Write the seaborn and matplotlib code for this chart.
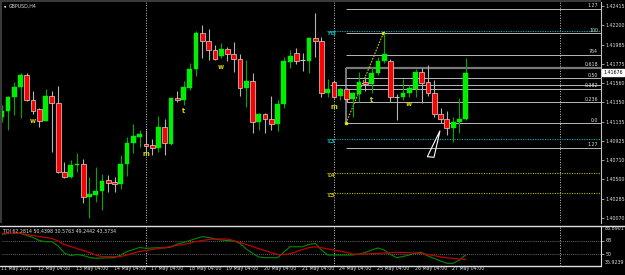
import numpy as np
import pandas as pd
import matplotlib
matplotlib.use("Agg")
import matplotlib.pyplot as plt
import matplotlib.transforms as mtransforms
from matplotlib.patches import Rectangle, Polygon
from matplotlib.lines import Line2D
import seaborn as sns

# ---------------- data (GBPUSD H4) ----------------
opens = [1.41182, 1.41252, 1.41403, 1.41520, 1.41650, 1.41373, 1.41274, 1.41145, 1.41418, 1.41337,
         1.40575, 1.40526, 1.40655, 1.40666, 1.40305, 1.40324, 1.40368, 1.40490, 1.40468, 1.40442,
         1.40666, 1.40895, 1.40968, 1.40887, 1.40873, 1.40840, 1.41072, 1.40887, 1.41395, 1.41373,
         1.41503, 1.41712, 1.42110, 1.42028, 1.41926, 1.41863, 1.41933, 1.41878, 1.41823, 1.41509,
         1.41583, 1.41134, 1.41215, 1.41164, 1.41108, 1.41326, 1.41796, 1.41889, 1.41811, 1.41808,
         1.42055, 1.42022, 1.41454, 1.41572, 1.41418, 1.41492, 1.41381, 1.41440, 1.41576, 1.41550,
         1.41668, 1.41808, 1.41808, 1.41403, 1.41403, 1.41447, 1.41495, 1.41686, 1.41569, 1.41447,
         1.41219, 1.41160, 1.41061, 1.41134, 1.41160]
highs = [1.41318, 1.41415, 1.41576, 1.41668, 1.41668, 1.41476, 1.41282, 1.41495, 1.41473, 1.41528,
         1.40685, 1.40711, 1.40785, 1.40718, 1.40526, 1.40637, 1.40556, 1.40545, 1.40526, 1.40766,
         1.40968, 1.41108, 1.41042, 1.41042, 1.40939, 1.41197, 1.41167, 1.41395, 1.41473, 1.41587,
         1.41785, 1.42139, 1.42202, 1.42154, 1.41981, 1.42006, 1.41962, 1.42011, 1.41878, 1.41815,
         1.41668, 1.41227, 1.41225, 1.41418, 1.41373, 1.41845, 1.41926, 1.41951, 1.41889, 1.42073,
         1.42338, 1.42066, 1.41605, 1.41594, 1.41503, 1.41503, 1.41465, 1.41686, 1.41624, 1.41741,
         1.41852, 1.42110, 1.41823, 1.41440, 1.41602, 1.41539, 1.41712, 1.41724, 1.41760, 1.41594,
         1.41282, 1.41255, 1.41189, 1.41392, 1.41834]
lows = [1.41134, 1.41042, 1.41208, 1.41171, 1.41366, 1.41219, 1.41072, 1.41140, 1.40802, 1.40564,
        1.40509, 1.40509, 1.40581, 1.40232, 1.40067, 1.40250, 1.40158, 1.40360, 1.40360, 1.40390,
        1.40537, 1.40785, 1.40858, 1.40802, 1.40766, 1.40802, 1.40766, 1.40876, 1.41351, 1.41318,
        1.41484, 1.41639, 1.41834, 1.41815, 1.41815, 1.41834, 1.41808, 1.41686, 1.41418, 1.41299,
        1.41006, 1.41042, 1.41012, 1.41042, 1.41034, 1.41282, 1.41724, 1.41768, 1.41694, 1.41675,
        1.41852, 1.41410, 1.41410, 1.41392, 1.41373, 1.41355, 1.41189, 1.41355, 1.41476, 1.41447,
        1.41650, 1.41779, 1.41355, 1.41152, 1.41373, 1.41403, 1.41410, 1.41337, 1.41418, 1.41182,
        1.41116, 1.40987, 1.40913, 1.41006, 1.41152]
closes = [1.41255, 1.41410, 1.41520, 1.41653, 1.41373, 1.41255, 1.41145, 1.41418, 1.41337, 1.40575,
          1.40526, 1.40655, 1.40666, 1.40305, 1.40332, 1.40368, 1.40479, 1.40460, 1.40442, 1.40666,
          1.40895, 1.40976, 1.40995, 1.40865, 1.40840, 1.41072, 1.40895, 1.41392, 1.41373, 1.41514,
          1.41712, 1.42113, 1.42028, 1.41926, 1.41826, 1.41933, 1.41878, 1.41823, 1.41509, 1.41583,
          1.41134, 1.41219, 1.41167, 1.41112, 1.41329, 1.41804, 1.41859, 1.41808, 1.41811, 1.42055,
          1.42022, 1.41454, 1.41492, 1.41410, 1.41492, 1.41381, 1.41447, 1.41576, 1.41550, 1.41675,
          1.41804, 1.41882, 1.41410, 1.41403, 1.41454, 1.41503, 1.41686, 1.41565, 1.41447, 1.41219,
          1.41160, 1.41061, 1.41134, 1.41164, 1.41676]

# TDI sub-window
tdi_price_line = [76.08, 77.12, 77.38, 77.38, 74.52, 71.91, 68.00, 66.43, 66.43, 60.82,
                  51.70, 48.44, 49.74, 48.44, 45.83, 44.78, 45.18, 45.44, 45.57, 49.09,
                  53.65, 56.26, 58.87, 57.82, 58.22, 58.61, 58.22, 59.52, 63.43, 65.39,
                  68.00, 70.60, 72.95, 71.91, 69.95, 68.65, 68.00, 67.34, 64.08, 56.91,
                  51.30, 46.48, 45.57, 45.57, 45.57, 53.00, 59.91, 59.91, 59.91, 62.78,
                  64.34, 55.61, 49.09, 49.09, 49.09, 49.09, 49.09, 50.39, 52.35, 55.61,
                  58.22, 55.61, 49.74, 45.57, 47.13, 49.09, 51.70, 52.35, 47.78, 44.52,
                  41.26, 38.26, 38.26, 42.57, 49.24]
tdi_signal_line = [77.38, 77.38, 77.38, 77.38, 75.82, 74.52, 73.21, 71.91, 70.60, 67.34,
                   62.78, 60.17, 57.56, 54.96, 52.35, 49.09, 46.87, 46.87, 46.87, 47.13,
                   49.09, 51.70, 53.65, 54.96, 56.26, 57.56, 58.87, 60.17, 61.74, 62.78,
                   64.74, 66.69, 68.00, 69.30, 69.95, 69.95, 69.95, 68.00, 65.39, 62.78,
                   60.17, 57.30, 54.69, 52.35, 49.74, 49.74, 50.78, 53.65, 56.26, 58.87,
                   59.78, 58.61, 56.91, 55.61, 54.04, 52.35, 50.39, 50.00, 50.39, 50.78,
                   51.30, 51.70, 52.09, 52.61, 52.35, 51.96, 51.43, 51.04, 49.74, 48.17,
                   46.50, 45.40, 44.50, 43.90, 43.37]
tdi_levels = [68, 50]
tdi_max, tdi_min = 86.8901, 35.9239
tdi_title = "TDI 62.2814 50.4398 30.5763 49.2442 43.3734"

price_ticks = [1.42415, 1.42200, 1.41985, 1.41775, 1.41560, 1.41350, 1.41135,
               1.40925, 1.40710, 1.40500, 1.40285, 1.40070]
current_price = 1.41676

date_labels = ["11 May 2021", "12 May 04:00", "13 May 04:00", "14 May 04:00", "17 May 04:00",
               "18 May 04:00", "19 May 04:00", "20 May 04:00", "21 May 04:00", "24 May 04:00",
               "25 May 04:00", "26 May 04:00", "27 May 04:00"]
date_label_bars = [0, 6, 12, 18, 24, 30, 36, 42, 48, 54, 60, 66, 72]
separator_bars = [23, 53, 89]

# Fibonacci
fib_anchor_bars = [54.9, 60.86]
fib_anchor_prices = [1.41116, 1.42110]
fib_levels = [1.27, 1.0, 0.764, 0.618, 0.5, 0.382, 0.236, 0.0, -0.27]
fib_labels = ["1.27", "100", "764", "0.618", "0.50", "0.382", "0.236", "0.0", "1.27"]
extra_line_bar = 52.4
extra_line_price = 1.41539

# pivot-like levels
pivot_labels = ["H3", "L3", "L4", "L5"]
pivot_prices = [1.42132, 1.40939, 1.40570, 1.40343]
pivot_colors = ["#00B8B8", "#00B8B8", "#B8B800", "#B8B800"]
pivot_start_bar = 51.9

# day-of-week letters
day_letters = ["w", "m", "t", "w", "m", "t", "w"]
day_letter_bars = [5, 23, 29, 35, 53, 59, 65]
day_letter_prices = [1.41145, 1.40774, 1.41252, 1.41741, 1.41296, 1.41373, 1.41326]

# arrow object
arrow_bars = [67.88, 68.95, 69.9]
arrow_prices = [1.40747, 1.40741, 1.41034]

# ---------------- style ----------------
sns.set_style("dark", {"axes.facecolor": "black", "figure.facecolor": "black"})
plt.rcParams["font.family"] = ["DejaVu Sans"]
TXT = "#DCDCDC"
FS = 3.4

W, H = 625, 275
def rect(l, t, r, b):
    return [l / W, 1 - b / H, (r - l) / W, (b - t) / H]

fig = plt.figure(figsize=(6.25, 2.75), dpi=100, facecolor="black")
ax = fig.add_axes(rect(2, 2, 601, 223))
ax2 = fig.add_axes(rect(2, 225.5, 601, 265.5), sharex=ax)
for a in (ax, ax2):
    a.set_facecolor("black")
    a.grid(False)
    for s in a.spines.values():
        s.set_visible(False)

x0, x1 = 0.048, 95.58
ax.set_xlim(x0, x1)
ax.set_ylim(1.40015, 1.42456)

o = np.array(opens); h = np.array(highs); l = np.array(lows); c = np.array(closes)
x = np.arange(len(o))
bull = c > o
bear = c < o
doji = c == o
bw = 0.76
minh = 0.00011

# separators
for sb in separator_bars:
    for a in (ax, ax2):
        a.axvline(sb, color="#C8C8C8", lw=0.7, ls=(0, (1, 1.6)), zorder=1)

# fib lines
p0, p1 = fib_anchor_prices
for lv, lab in zip(fib_levels, fib_labels):
    pr = p0 + lv * (p1 - p0)
    if lv == 0.618:
        ax.hlines(pr, fib_anchor_bars[0], x1, color="#7A7A7A", lw=1.6, zorder=1)
    else:
        ax.hlines(pr, fib_anchor_bars[0], x1, color="#B8B8B8", lw=0.7, zorder=1)
    ax.annotate(lab, xy=(0.995, pr), xycoords=(ax.transAxes, ax.transData),
                xytext=(0, 0.4), textcoords="offset points", ha="right", va="bottom",
                color=TXT, fontsize=FS)
ax.vlines(fib_anchor_bars[0], p0, p0 + 0.618 * (p1 - p0), color="#7A7A7A", lw=1.4, zorder=1)
ax.hlines(extra_line_price, extra_line_bar, x1, color="#B8B8B8", lw=0.7, zorder=1)
ax.plot(fib_anchor_bars, fib_anchor_prices, color="#C8C800", lw=0.8, ls=(0, (1.5, 1.2)), zorder=2)
ax.plot(fib_anchor_bars, fib_anchor_prices, ls="none", marker="s", ms=1.5, color="#E0E000", zorder=2)

# pivots
for lab, pr, col in zip(pivot_labels, pivot_prices, pivot_colors):
    ax.hlines(pr, pivot_start_bar, x1, color=col, lw=0.8, ls=(0, (1, 1.2)), zorder=1)
    ax.text(pivot_start_bar, pr, lab, color=col, fontsize=4.2, fontweight="bold",
            ha="left", va="top", zorder=3)

# candles
ax.vlines(x[bull], l[bull], h[bull], color="#00A800", lw=0.8, zorder=3)
ax.vlines(x[bear], l[bear], h[bear], color="#B4B4B4", lw=0.8, zorder=3)
ax.vlines(x[doji], l[doji], h[doji], color="#B4B4B4", lw=0.8, zorder=3)
ax.bar(x[bull], np.maximum(c[bull] - o[bull], minh), bottom=o[bull], width=bw,
       color="#00EE00", edgecolor="#00EE00", linewidth=0.3, zorder=4)
ax.bar(x[bear], np.maximum(o[bear] - c[bear], minh), bottom=c[bear], width=bw,
       color="#FF0000", edgecolor="#D8D8D8", linewidth=0.5, zorder=4)
ax.hlines(c[doji], x[doji] - bw / 2, x[doji] + bw / 2, color="#C8C8C8", lw=0.8, zorder=4)

# day letters
for lt, b, pr in zip(day_letters, day_letter_bars, day_letter_prices):
    ax.text(b, pr, lt, color="#D8D800", fontsize=4.8, fontweight="bold",
            ha="center", va="center", zorder=5)

# arrow
ax.add_patch(Polygon(list(zip(arrow_bars, arrow_prices)), closed=True, fill=False,
                     edgecolor="white", lw=0.8, zorder=5))

# price axis
ax.yaxis.tick_right()
ax.set_yticks(price_ticks)
ax.set_yticklabels([f"{p:.5f}" for p in price_ticks])
ax.tick_params(axis="y", colors=TXT, labelsize=FS, length=2, width=0.5, pad=1)
ax.set_xticks([])
ax.spines["right"].set_visible(True)
ax.spines["right"].set_color("#C0C0C0")
ax.spines["right"].set_linewidth(0.8)
ax.text(1 + 2.5 / 599, current_price, "1.41676", transform=mtransforms.blended_transform_factory(ax.transAxes, ax.transData),
        ha="left", va="center", fontsize=FS, color="black", clip_on=False,
        bbox=dict(boxstyle="square,pad=0.25", facecolor="white", edgecolor="white"))

ax.text(0.004, 0.985, "\u25BC", transform=ax.transAxes, color="white", fontsize=2.2, ha="left", va="top")
ax.text(0.011, 0.99, "GBPUSD,H4", transform=ax.transAxes, color=TXT, fontsize=FS, ha="left", va="top")

# TDI window
tdi_df = pd.DataFrame({"bar": x, "price_line": tdi_price_line, "signal_line": tdi_signal_line})
ax2.set_ylim(35.40, 87.56)
for lv in tdi_levels:
    ax2.axhline(lv, color="#8A8A8A", lw=0.6, ls=(0, (1, 1.5)), zorder=1)
sns.lineplot(data=tdi_df, x="bar", y="price_line", ax=ax2, color="#008C00", lw=0.8, zorder=3)
sns.lineplot(data=tdi_df, x="bar", y="signal_line", ax=ax2, color="#C00000", lw=0.9, zorder=4)
ax2.set_xlabel(""); ax2.set_ylabel("")
ax2.set_xlim(x0, x1)
ax2.yaxis.tick_right()
ax2.set_yticks(tdi_levels)
ax2.set_yticklabels([str(v) for v in tdi_levels])
ax2.tick_params(axis="y", colors=TXT, labelsize=FS, length=2, width=0.5, pad=1)
ax2.tick_params(axis="x", bottom=False, labelbottom=False)
ax2.spines["right"].set_visible(True)
ax2.spines["right"].set_color("#E0E0E0")
ax2.spines["right"].set_linewidth(0.8)
ax2.text(1 + 3.5 / 599, 0.985, f"{tdi_max:.4f}", transform=ax2.transAxes, ha="left", va="top",
         fontsize=FS, color=TXT)
ax2.text(1 + 3.5 / 599, 0.01, f"{tdi_min:.4f}", transform=ax2.transAxes, ha="left", va="bottom",
         fontsize=FS, color=TXT)
ax2.text(0.002, 0.92, tdi_title, transform=ax2.transAxes, ha="left", va="top", fontsize=FS, color=TXT)

# date labels
tr = mtransforms.blended_transform_factory(ax2.transData, ax2.transAxes)
for lab, b in zip(date_labels, date_label_bars):
    ax2.text(b - 0.15, -0.075, lab, transform=tr, ha="left", va="center", fontsize=FS,
             color=TXT, clip_on=False)

# frame lines
fig.add_artist(Rectangle((0, 1 - 223 / H), 2 / W, 221 / H, transform=fig.transFigure,
                         facecolor="#3A3A3A", edgecolor="none"))
fig.add_artist(Rectangle((0, 1 - 1.5 / H), 601 / W, 1.5 / H, transform=fig.transFigure,
                         facecolor="#3A3A3A", edgecolor="none"))
fig.add_artist(Line2D([0, 1], [1 - 225.5 / H] * 2, transform=fig.transFigure, color="#E0E0E0", lw=1))
fig.add_artist(Line2D([0, 601.4 / W], [1 - 265.5 / H] * 2, transform=fig.transFigure, color="#E0E0E0", lw=1))

fig.savefig("out.png", dpi=100, facecolor="black")
